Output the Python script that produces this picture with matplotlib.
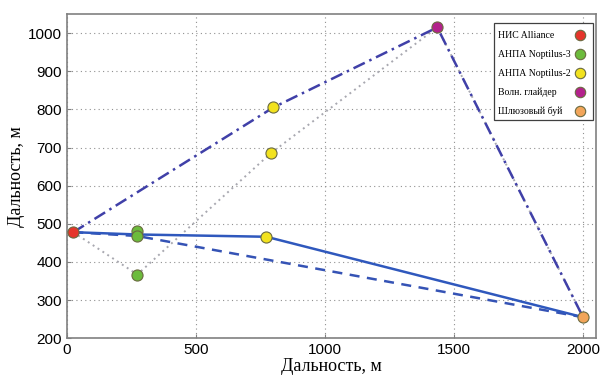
import matplotlib
matplotlib.use("Agg")
import matplotlib.pyplot as plt
from matplotlib.patches import Rectangle

# node positions, m
alliance = (25, 478)
nop3_x = [273, 273, 273]
nop3_y = [480, 468, 367]
nop2_x = [773, 800, 790]
nop2_y = [466, 805, 685]
glider = (1435, 1015)
buoy = (2000, 255)

# routes
solid_x = [25, 273, 773, 2000]
solid_y = [478, 472, 466, 255]
dashed_x = [25, 273, 2000]
dashed_y = [478, 468, 255]
dashdot_x = [25, 800, 1435, 2000]
dashdot_y = [478, 805, 1015, 255]
dotted_x = [25, 273, 790, 1435, 2000]
dotted_y = [478, 367, 685, 1015, 255]

labels = ["НИС Alliance", "АНПА Noptilus-3", "АНПА Noptilus-2",
          "Волн. глайдер", "Шлюзовый буй"]
colors = ["#e5352b", "#6cbb3c", "#f2e21e", "#b3228c", "#f2a55a"]

serif = ["Liberation Serif", "DejaVu Serif"]

fig = plt.figure(figsize=(6.02, 3.8), dpi=100)
ax = fig.add_axes([0.111, 0.11, 0.879, 0.853])

ax.plot(dotted_x, dotted_y, ls=(0, (1, 2)), color="#a8a8b0", lw=1.4, zorder=2)
ax.plot(dashdot_x, dashdot_y, ls=(0, (5, 2, 1, 2)), color="#4040a8", lw=1.8, zorder=3)
ax.plot(dashed_x, dashed_y, ls=(0, (4, 3)), color="#3553b5", lw=1.8, zorder=3)
ax.plot(solid_x, solid_y, ls="-", color="#2f58bd", lw=1.8, zorder=3)

mk = dict(marker="o", ms=8, mec="#6a6a40", mew=0.8, ls="none", zorder=5)
ax.plot([alliance[0]], [alliance[1]], mfc=colors[0], **mk)
ax.plot(nop3_x, nop3_y, mfc=colors[1], **mk)
ax.plot(nop2_x, nop2_y, mfc=colors[2], **mk)
ax.plot([glider[0]], [glider[1]], mfc=colors[3], **mk)
ax.plot([buoy[0]], [buoy[1]], mfc=colors[4], **mk)

ax.set_xlim(0, 2050)
ax.set_ylim(200, 1050)
ax.set_xticks([0, 500, 1000, 1500, 2000])
ax.set_yticks(range(200, 1001, 100))
ax.grid(True, ls=(0, (1, 3)), color="#909090", lw=0.8)
ax.tick_params(labelsize=11, direction="in", color="#808080", length=3)
for lab in ax.get_xticklabels() + ax.get_yticklabels():
    lab.set_family(["Liberation Sans", "DejaVu Sans"])
for sp in ax.spines.values():
    sp.set_color("#808080")
    sp.set_linewidth(1.2)

ax.set_xlabel("Дальность, м", family=serif, fontsize=13, labelpad=1)
ax.set_ylabel("Дальность, м", family=serif, fontsize=13, labelpad=2)

# legend: text left-aligned, marker column on the right
box = Rectangle((0.808, 0.672), 0.186, 0.30, transform=ax.transAxes,
                fc="white", ec="#404040", lw=0.9, zorder=10, clip_on=False)
ax.add_patch(box)
for i, (lab, c) in enumerate(zip(labels, colors)):
    yy = 0.935 - i * 0.0585
    ax.text(0.815, yy, lab, transform=ax.transAxes, family=serif, fontsize=7,
            va="center", ha="left", zorder=11)
    ax.plot([0.969], [yy], transform=ax.transAxes, marker="o", ms=7.5, mfc=c,
            mec="#6a6a40", mew=0.8, ls="none", zorder=12, clip_on=False)

fig.savefig("out.png", dpi=100)
